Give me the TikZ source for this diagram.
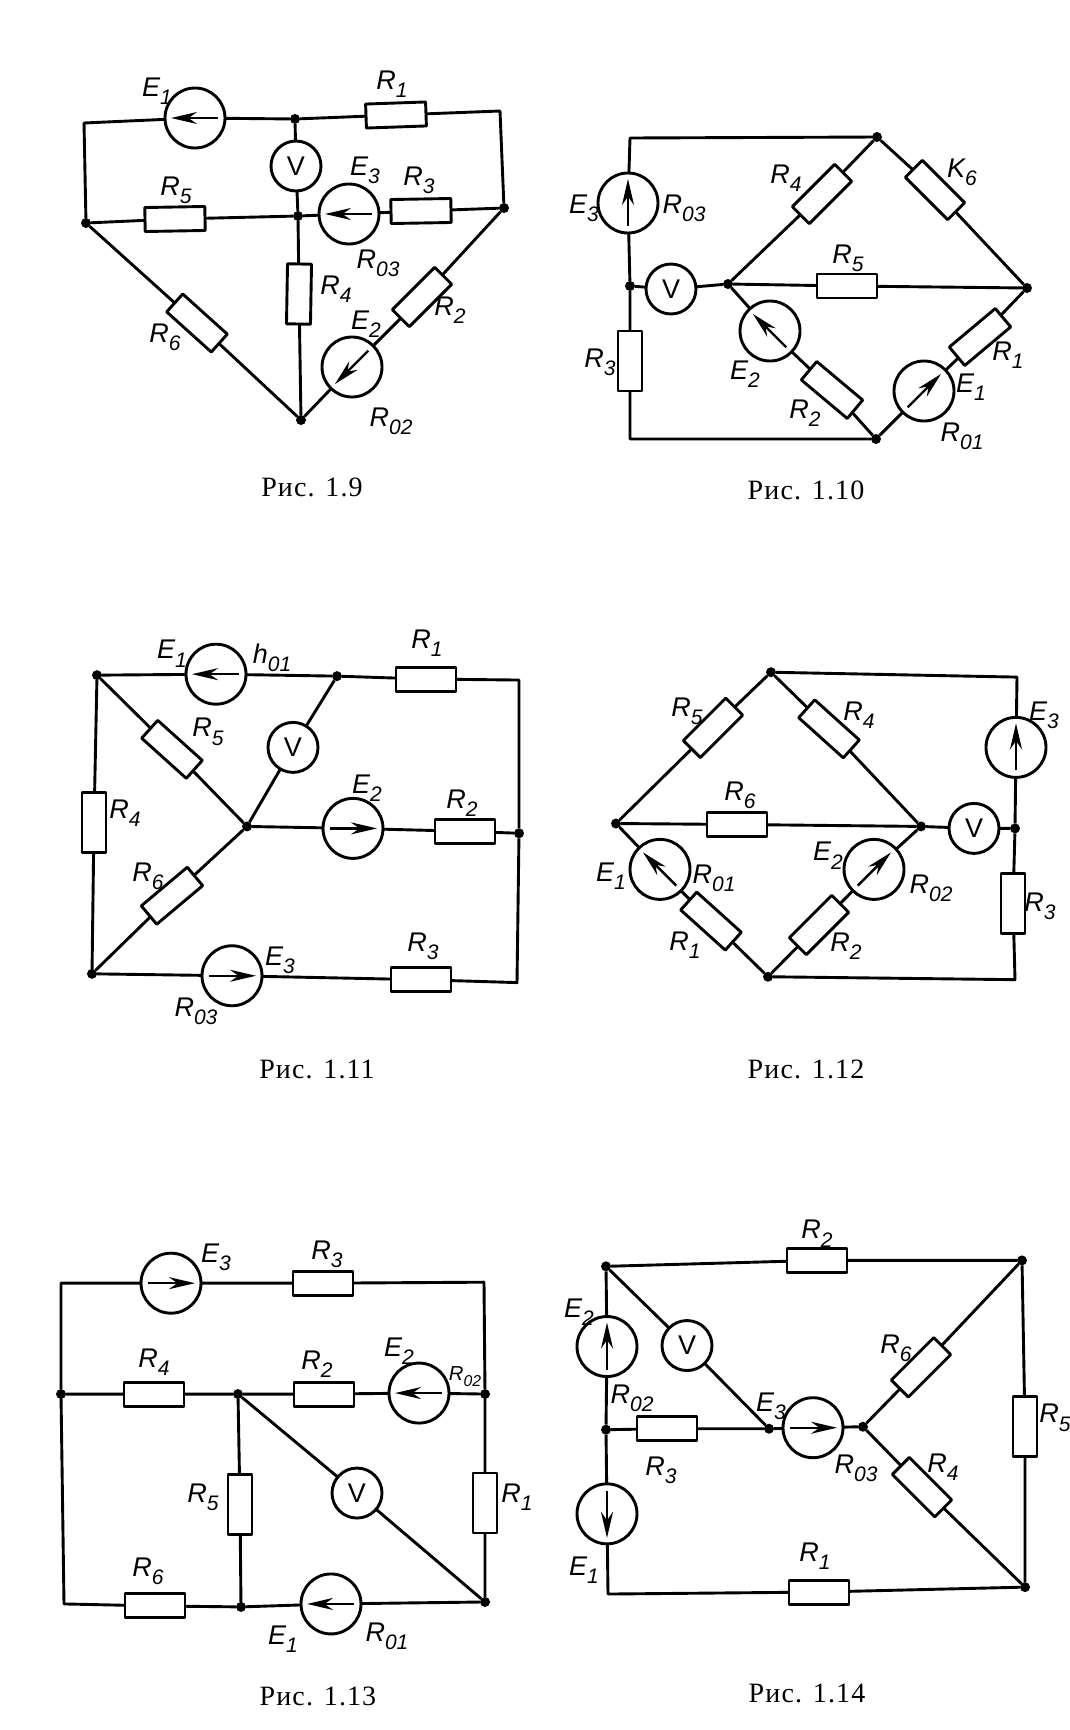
\documentclass[tikz,border=0pt]{standalone}
\usepackage{fontspec}
\setsansfont{Liberation Sans}
\newfontfamily\capfont[LetterSpace=4]{Liberation Serif}
\usetikzlibrary{arrows.meta}
\newcommand{\sbs}[2]{#1\raisebox{-0.3em}{\fontsize{21}{21}\selectfont #2}}
\tikzset{
  res/.style={draw,rectangle,minimum width=60pt,minimum height=24pt,inner sep=0pt,outer sep=0pt},
  src/.style={draw,circle,minimum size=60pt,inner sep=0pt,outer sep=0pt},
  volt/.style={draw,circle,minimum size=50pt,inner sep=0pt,outer sep=0pt,font=\sffamily\fontsize{27}{27}\selectfont},
  dot/.style={fill,circle,minimum size=10pt,inner sep=0pt,outer sep=0pt},
  emf/.style={-{Stealth[length=26pt,width=12pt]},line width=2.4pt,shorten <=7pt,shorten >=6pt},
  lab/.style={inner sep=0pt,font=\sffamily\itshape\fontsize{27}{27}\selectfont},
  captext/.style={inner sep=0pt,font=\capfont\fontsize{28}{28}\selectfont}
}
\begin{document}
\begin{tikzpicture}[x=1pt,y=-1pt,line width=2.9pt,line join=round]
  \useasboundingbox[fill=white] (0,0) rectangle (1070,1730);

  \coordinate (tla) at (84,123);
  \coordinate (tra) at (500,111);
  \node[dot] (lfa) at (86,223) {};
  \node[dot] (rta) at (504,208) {};
  \node[dot] (bta) at (301,420) {};
  \node[dot] (tja) at (295,119) {};
  \node[dot] (mja) at (298,216) {};
  \node[src] (E1a) at (195,118) {};
  \node[src] (E3a) at (349,214) {};
  \node[src] (E2a) at (352,367) {};
  \node[volt] (Va) at (296,166) {V};
  \node[res,rotate=2] (R1a) at (396,115) {};
  \node[res,rotate=1] (R3a) at (421,211) {};
  \node[res,rotate=1] (R5a) at (175,219) {};
  \node[res,rotate=89] (R4a) at (299,294) {};
  \node[res,rotate=-42] (R6a) at (197,323) {};
  \node[res,rotate=45] (R2a) at (422,297) {};
  \draw (lfa) -- (tla) -- (E1a) -- (tja) -- (R1a) -- (tra) -- (rta);
  \draw (lfa) -- (R5a) -- (mja) -- (E3a) -- (R3a) -- (rta);
  \draw (tja) -- (Va) -- (mja) -- (R4a) -- (bta);
  \draw (lfa) -- (R6a) -- (bta) -- (E2a) -- (R2a) -- (rta);
  \draw[emf] (E1a.0) -- (E1a.180);
  \draw[emf] (E3a.0) -- (E3a.180);
  \draw[emf] (E2a.45) -- (E2a.225);
  \node[lab] (lE1a) at (157,91) {\sbs{E}{1}};
  \node[lab] (lR1a) at (392,84) {\sbs{R}{1}};
  \node[lab] (lR5a) at (176,190) {\sbs{R}{5}};
  \node[lab] (lE3a) at (365,170) {\sbs{E}{3}};
  \node[lab] (lR3a) at (419,180) {\sbs{R}{3}};
  \node[lab] (lR03a) at (378,263) {\sbs{R}{03}};
  \node[lab] (lR4a) at (336,289) {\sbs{R}{4}};
  \node[lab] (lR6a) at (165,337) {\sbs{R}{6}};
  \node[lab] (lE2a) at (366,324) {\sbs{E}{2}};
  \node[lab] (lR2a) at (450,310) {\sbs{R}{2}};
  \node[lab] (lR02a) at (391,421) {\sbs{R}{02}};
  \node[captext] (capa) at (312,487) {Рис. 1.9};

  \coordinate (tlb) at (630,138);
  \coordinate (blb) at (630,439);
  \node[dot] (tpb) at (877,137) {};
  \node[dot] (ljb) at (630,286) {};
  \node[dot] (ctb) at (728,284) {};
  \node[dot] (rtb) at (1027,288) {};
  \node[dot] (btb) at (876,439) {};
  \node[src] (E3b) at (628,203) {};
  \node[src] (E2b) at (770,331) {};
  \node[src] (E1b) at (924,391) {};
  \node[volt] (Vb) at (671,289) {V};
  \node[res,rotate=90] (R3b) at (630,361) {};
  \node[res,rotate=45] (R4b) at (822,194) {};
  \node[res,rotate=-45] (R6b) at (935,190) {};
  \node[res] (R5b) at (847,286) {};
  \node[res,rotate=-40] (R2b) at (832,390) {};
  \node[res,rotate=40] (R1b) at (980,337) {};
  \draw (ljb) -- (E3b) -- (tlb) -- (tpb) -- (R6b) -- (rtb);
  \draw (ljb) -- (R3b) -- (blb) -- (btb) -- (E1b) -- (R1b) -- (rtb);
  \draw (ljb) -- (Vb) -- (ctb) -- (R5b) -- (rtb);
  \draw (ctb) -- (R4b) -- (tpb);
  \draw (ctb) -- (E2b) -- (R2b) -- (btb);
  \draw[emf] (E3b.270) -- (E3b.90);
  \draw[emf] (E2b.315) -- (E2b.135);
  \draw[emf] (E1b.225) -- (E1b.45);
  \node[lab] (lE3b) at (584,208) {\sbs{E}{3}};
  \node[lab] (lR03b) at (684,208) {\sbs{R}{03}};
  \node[lab] (lR4b) at (786,178) {\sbs{R}{4}};
  \node[lab] (lR6b) at (962,172) {\sbs{K}{6}};
  \node[lab] (lR5b) at (848,258) {\sbs{R}{5}};
  \node[lab] (lE2b) at (745,374) {\sbs{E}{2}};
  \node[lab] (lR2b) at (805,413) {\sbs{R}{2}};
  \node[lab] (lR1b) at (1008,355) {\sbs{R}{1}};
  \node[lab] (lE1b) at (971,387) {\sbs{E}{1}};
  \node[lab] (lR01b) at (962,436) {\sbs{R}{01}};
  \node[lab] (lR3b) at (600,362) {\sbs{R}{3}};
  \node[captext] (capb) at (806,490) {Рис. 1.10};

  \begin{scope}[y=-0.976pt,yshift=-14.4pt]
  \coordinate (trc) at (519,682);
  \coordinate (brc) at (517,992);
  \node[dot] (tlc) at (97,677) {};
  \node[dot] (blc) at (92,983) {};
  \node[dot] (tjc) at (337,678) {};
  \node[dot] (rtc) at (519,839) {};
  \node[dot] (ctc) at (247,832) {};
  \node[src] (E1c) at (216,676) {};
  \node[src] (E2c) at (353,834) {};
  \node[src] (E3c) at (232,985) {};
  \node[volt] (Vc) at (293,751) {V};
  \node[res] (R1c) at (426,681) {};
  \node[res,rotate=-42] (R5c) at (172,753) {};
  \node[res] (R2c) at (465,837) {};
  \node[res,rotate=40] (R6c) at (172,903) {};
  \node[res,rotate=90] (R4c) at (94,828) {};
  \node[res] (R3c) at (421,989) {};
  \draw (tlc) -- (E1c) -- (tjc) -- (R1c) -- (trc) -- (rtc) -- (brc) -- (R3c) -- (E3c) -- (blc);
  \draw (tlc) -- (R4c) -- (blc) -- (R6c) -- (ctc) -- (R5c) -- (tlc);
  \draw (ctc) -- (E2c) -- (R2c) -- (rtc);
  \draw (ctc) -- (Vc) -- (tjc);
  \draw[emf] (E1c.0) -- (E1c.180);
  \draw[emf] (E2c.180) -- (E2c.0);
  \draw[emf] (E3c.180) -- (E3c.0);
  \node[lab] (lE1c) at (172,655) {\sbs{E}{1}};
  \node[lab] (lR01c) at (272,659) {\sbs{h}{01}};
  \node[lab] (lR1c) at (427,644) {\sbs{R}{1}};
  \node[lab] (lR5c) at (208,735) {\sbs{R}{5}};
  \node[lab] (lE2c) at (367,793) {\sbs{E}{2}};
  \node[lab] (lR2c) at (462,808) {\sbs{R}{2}};
  \node[lab] (lR4c) at (125,818) {\sbs{R}{4}};
  \node[lab] (lR6c) at (148,883) {\sbs{R}{6}};
  \node[lab] (lE3c) at (280,969) {\sbs{E}{3}};
  \node[lab] (lR3c) at (423,955) {\sbs{R}{3}};
  \node[lab] (lR03c) at (196,1021) {\sbs{R}{03}};
  \node[captext] (capc) at (317,1081) {Рис. 1.11};

  \coordinate (trd) at (1017,679);
  \coordinate (brd) at (1015,989);
  \node[dot] (lfd) at (616,829) {};
  \node[dot] (tpd) at (771,674) {};
  \node[dot] (crd) at (921,832) {};
  \node[dot] (btd) at (768,986) {};
  \node[dot] (jrd) at (1015,834) {};
  \node[src] (E3d) at (1016,751) {};
  \node[src] (E1d) at (660,876) {};
  \node[src] (E2d) at (874,876) {};
  \node[volt] (Vd) at (974,834) {V};
  \node[res,rotate=45] (R5d) at (713,731) {};
  \node[res,rotate=-42] (R4d) at (829,732) {};
  \node[res] (R6d) at (737,830) {};
  \node[res,rotate=90] (R3d) at (1013,911) {};
  \node[res,rotate=-42] (R1d) at (711,929) {};
  \node[res,rotate=45] (R2d) at (819,933) {};
  \draw (lfd) -- (R5d) -- (tpd) -- (R4d) -- (crd) -- (R6d) -- (lfd);
  \draw (tpd) -- (trd) -- (E3d) -- (jrd) -- (R3d) -- (brd) -- (btd);
  \draw (crd) -- (Vd) -- (jrd);
  \draw (lfd) -- (E1d) -- (R1d) -- (btd) -- (R2d) -- (E2d) -- (crd);
  \draw[emf] (E3d.270) -- (E3d.90);
  \draw[emf] (E1d.315) -- (E1d.135);
  \draw[emf] (E2d.225) -- (E2d.45);
  \node[lab] (lR5d) at (687,714) {\sbs{R}{5}};
  \node[lab] (lR4d) at (859,718) {\sbs{R}{4}};
  \node[lab] (lE3d) at (1044,718) {\sbs{E}{3}};
  \node[lab] (lR6d) at (740,800) {\sbs{R}{6}};
  \node[lab] (lE1d) at (611,883) {\sbs{E}{1}};
  \node[lab] (lR01d) at (714,885) {\sbs{R}{01}};
  \node[lab] (lE2d) at (828,862) {\sbs{E}{2}};
  \node[lab] (lR02d) at (931,895) {\sbs{R}{02}};
  \node[lab] (lR1d) at (685,954) {\sbs{R}{1}};
  \node[lab] (lR2d) at (846,955) {\sbs{R}{2}};
  \node[lab] (lR3d) at (1040,914) {\sbs{R}{3}};
  \node[captext] (capd) at (806,1081) {Рис. 1.12};
  \end{scope}

  \begin{scope}[y=-0.99pt,yshift=-12pt]
  \coordinate (tle) at (61,1284);
  \coordinate (tre) at (484,1283);
  \coordinate (ble) at (64,1608);
  \node[dot] (lfe) at (61,1396) {};
  \node[dot] (mde) at (238,1396) {};
  \node[dot] (rte) at (485,1396) {};
  \node[dot] (bme) at (241,1611) {};
  \node[dot] (bre) at (485,1606) {};
  \node[src] (E3e) at (171,1284) {};
  \node[src] (E2e) at (419,1395) {};
  \node[src] (E1e) at (331,1608) {};
  \node[volt] (Ve) at (357,1496) {V};
  \node[res] (R3e) at (323,1284) {};
  \node[res] (R4e) at (154,1396) {};
  \node[res] (R2e) at (324,1396) {};
  \node[res,rotate=90] (R5e) at (240,1508) {};
  \node[res,rotate=90] (R1e) at (485,1506) {};
  \node[res] (R6e) at (155,1610) {};
  \draw (lfe) -- (tle) -- (E3e) -- (R3e) -- (tre) -- (rte) -- (R1e) -- (bre);
  \draw (lfe) -- (R4e) -- (mde) -- (R2e) -- (E2e) -- (rte);
  \draw (lfe) -- (ble) -- (R6e) -- (bme) -- (E1e) -- (bre);
  \draw (mde) -- (R5e) -- (bme);
  \draw (mde) -- (Ve) -- (bre);
  \draw[emf] (E3e.180) -- (E3e.0);
  \draw[emf] (E2e.0) -- (E2e.180);
  \draw[emf] (E1e.0) -- (E1e.180);
  \node[lab] (lE3e) at (216,1258) {\sbs{E}{3}};
  \node[lab] (lR3e) at (327,1255) {\sbs{R}{3}};
  \node[lab] (lR4e) at (154,1364) {\sbs{R}{4}};
  \node[lab] (lR2e) at (317,1366) {\sbs{R}{2}};
  \node[lab] (lE2e) at (399,1353) {\sbs{E}{2}};
  \node[lab,scale=0.75] (lR02e) at (465,1378) {\sbs{R}{02}};
  \node[lab] (lR5e) at (203,1500) {\sbs{R}{5}};
  \node[lab] (lR1e) at (517,1500) {\sbs{R}{1}};
  \node[lab] (lR6e) at (148,1575) {\sbs{R}{6}};
  \node[lab] (lE1e) at (283,1644) {\sbs{E}{1}};
  \node[lab] (lR01e) at (387,1641) {\sbs{R}{01}};
  \node[captext] (cape) at (318,1701) {Рис. 1.13};

  \coordinate (blf) at (608,1598);
  \node[dot] (tlf) at (606,1267) {};
  \node[dot] (trf) at (1022,1261) {};
  \node[dot] (brf) at (1025,1591) {};
  \node[dot] (mlf) at (606,1432) {};
  \node[dot] (e3f) at (769,1431) {};
  \node[dot] (jrf) at (863,1429) {};
  \node[src] (E2f) at (607,1348) {};
  \node[src] (E3f) at (813,1430) {};
  \node[src] (E1f) at (607,1517) {};
  \node[volt] (Vf) at (687,1347) {V};
  \node[res] (R2f) at (817,1261) {};
  \node[res] (R3f) at (667,1431) {};
  \node[res,rotate=45] (R6f) at (921,1369) {};
  \node[res,rotate=-45] (R4f) at (922,1490) {};
  \node[res,rotate=90] (R5f) at (1025,1429) {};
  \node[res] (R1f) at (819,1596) {};
  \draw (tlf) -- (R2f) -- (trf) -- (R5f) -- (brf) -- (R1f) -- (blf) -- (E1f) -- (mlf) -- (E2f) -- (tlf);
  \draw (tlf) -- (Vf) -- (e3f) -- (E3f) -- (jrf) -- (R6f) -- (trf);
  \draw (mlf) -- (R3f) -- (e3f);
  \draw (jrf) -- (R4f) -- (brf);
  \draw[emf] (E2f.270) -- (E2f.90);
  \draw[emf] (E3f.180) -- (E3f.0);
  \draw[emf] (E1f.90) -- (E1f.270);
  \node[lab] (lR2f) at (817,1234) {\sbs{R}{2}};
  \node[lab] (lE2f) at (579,1313) {\sbs{E}{2}};
  \node[lab] (lR02f) at (632,1400) {\sbs{R}{02}};
  \node[lab] (lR3f) at (661,1473) {\sbs{R}{3}};
  \node[lab] (lE3f) at (771,1408) {\sbs{E}{3}};
  \node[lab] (lR03f) at (856,1471) {\sbs{R}{03}};
  \node[lab] (lR6f) at (896,1350) {\sbs{R}{6}};
  \node[lab] (lR4f) at (943,1470) {\sbs{R}{4}};
  \node[lab] (lR5f) at (1055,1420) {\sbs{R}{5}};
  \node[lab] (lE1f) at (584,1574) {\sbs{E}{1}};
  \node[lab] (lR1f) at (815,1560) {\sbs{R}{1}};
  \node[captext] (capf) at (807,1698) {Рис. 1.14};
  \end{scope}
\end{tikzpicture}
\end{document}
